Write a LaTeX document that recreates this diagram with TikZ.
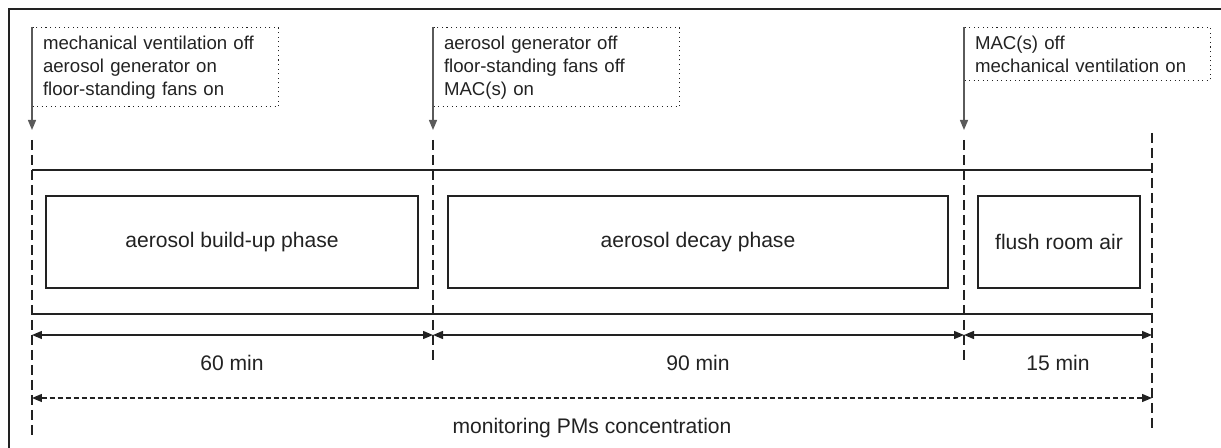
\documentclass[tikz,border=0pt]{standalone}
\usepackage{fontspec}
\setmainfont{Liberation Sans}
\usetikzlibrary{arrows.meta}
\definecolor{ink}{HTML}{222222}
\definecolor{cuegrey}{HTML}{5A5A5A}
\tikzset{
  frame/.style={draw=ink, line width=0.8pt},
  timeline/.style={draw=ink, line width=0.8pt},
  guide/.style={draw=ink, line width=0.8pt, dash pattern=on 0.2cm off 0.1cm},
  note/.style={draw=ink, dotted, line width=0.6pt, anchor=north west, align=left,
    font=\fontsize{10.6}{13.1}\selectfont,
    text width=4.5cm, inner xsep=0.21cm, inner ysep=0.16cm},
  phase/.style={draw=ink, line width=0.8pt, minimum height=1.84cm, inner sep=0pt},
  cue/.style={draw=cuegrey, line width=0.8pt, -{Triangle[length=0.2cm,width=0.16cm]}},
  span/.style={draw=ink, line width=0.8pt,
    {Triangle[length=0.2cm,width=0.16cm]}-{Triangle[length=0.2cm,width=0.16cm]}},
  total/.style={span, dash pattern=on 0.1cm off 0.06cm},
}
\begin{document}
\begin{tikzpicture}[x=0.02cm,y=-0.02cm, font=\fontsize{12}{14}\selectfont, text=ink]
  \useasboundingbox (0,0) rectangle (1221,448);
  \draw[frame] (9,448) -- (9,9) -- (1221,9);

  % switching notes
  \node[note] (n1) at (32,27) {\mbox{mechanical ventilation off}\\\mbox{aerosol generator on}\\\mbox{floor-standing fans on}};
  \node[note] (n2) at (433,27) {\mbox{aerosol generator off}\\\mbox{floor-standing fans off}\\\mbox{MAC(s) on}};
  \node[note] (n3) at (964,27) {\mbox{MAC(s) off}\\\mbox{mechanical ventilation on}};
  \coordinate (a1) at (32,130);
  \coordinate (a2) at (433,130);
  \coordinate (a3) at (964,130);
  \draw[cue] (n1.north west) -- (a1);
  \draw[cue] (n2.north west) -- (a2);
  \draw[cue] (n3.north west) -- (a3);

  % guides
  \coordinate (g0) at (32,140);  \coordinate (h0) at (32,437);
  \coordinate (g1) at (433,140); \coordinate (h1) at (433,362);
  \coordinate (g2) at (964,140); \coordinate (h2) at (964,362);
  \coordinate (g3) at (1152,133); \coordinate (h3) at (1152,428);
  \draw[guide] (g0) -- (h0);
  \draw[guide] (g1) -- (h1);
  \draw[guide] (g2) -- (h2);
  \draw[guide] (g3) -- (h3);

  % timeline
  \coordinate (t0) at (32,170);  \coordinate (t1) at (1152,170);
  \coordinate (b0) at (32,314);  \coordinate (b1) at (1152,314);
  \draw[timeline] (t0) -- (t1);
  \draw[timeline] (b0) -- (b1);
  \node[phase, minimum width=7.44cm] (buildup) at (232,242) {aerosol build-up phase};
  \node[phase, minimum width=10cm] (decay) at (698,242) {aerosol decay phase};
  \node[phase, minimum width=3.24cm] (flush) at (1059,242) {flush room air};

  % durations
  \coordinate (d0) at (32,335);  \coordinate (d1) at (433,335);
  \coordinate (d2) at (964,335); \coordinate (d3) at (1152,335);
  \draw[span] (d0) -- (d1);
  \draw[span] (d1) -- (d2);
  \draw[span] (d2) -- (d3);
  \node (l60) at (232,363) {60 min};
  \node (l90) at (698,363) {90 min};
  \node (l15) at (1058,363) {15 min};

  \coordinate (m0) at (32,398); \coordinate (m1) at (1152,398);
  \draw[total] (m0) -- (m1);
  \node (mon) at (592,428) {monitoring PMs concentration};
\end{tikzpicture}
\end{document}
